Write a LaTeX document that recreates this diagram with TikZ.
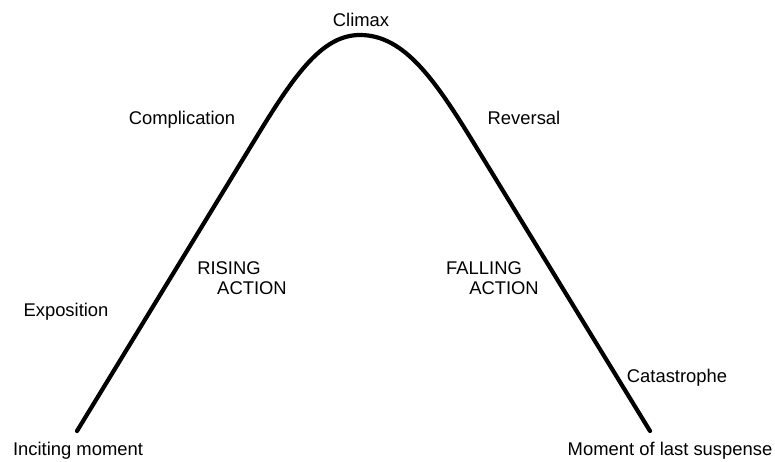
\documentclass[tikz,border=0pt]{standalone}
\usepackage{fontspec}
\setmainfont{Liberation Sans}
\begin{document}
\begin{tikzpicture}[x=0.5pt,y=-0.5pt,
  lbl/.style={anchor=base,inner sep=0pt,font=\fontsize{9.2}{11}\selectfont},
  arc/.style={line width=2.1pt,line cap=round,line join=round}]
\useasboundingbox (0,0) rectangle (775,461);
\coordinate (start) at (77,431);
\coordinate (up) at (262,128);
\coordinate (peak) at (360,35);
\coordinate (down) at (478,150);
\coordinate (end) at (650,431);
\draw[arc] (start) -- (up) .. controls (299,68) and (325,35) .. (peak)
  .. controls (405,35) and (436,81) .. (down) -- (end);
\node[lbl] (climax) at (361,26) {Climax};
\node[lbl] (compl) at (182,124) {Complication};
\node[lbl] (rev) at (524,124) {Reversal};
\node[lbl] (expo) at (66,316) {Exposition};
\node[lbl] (cat) at (677,382) {Catastrophe};
\node[lbl] (inc) at (78,455) {Inciting moment};
\node[lbl] (mom) at (670,455) {Moment of last suspense};
\node[lbl] (ris) at (229,274) {RISING};
\node[lbl] (ract) at (252,294) {ACTION};
\node[lbl] (fal) at (484,274) {FALLING};
\node[lbl] (fact) at (504,294) {ACTION};
\end{tikzpicture}
\end{document}
